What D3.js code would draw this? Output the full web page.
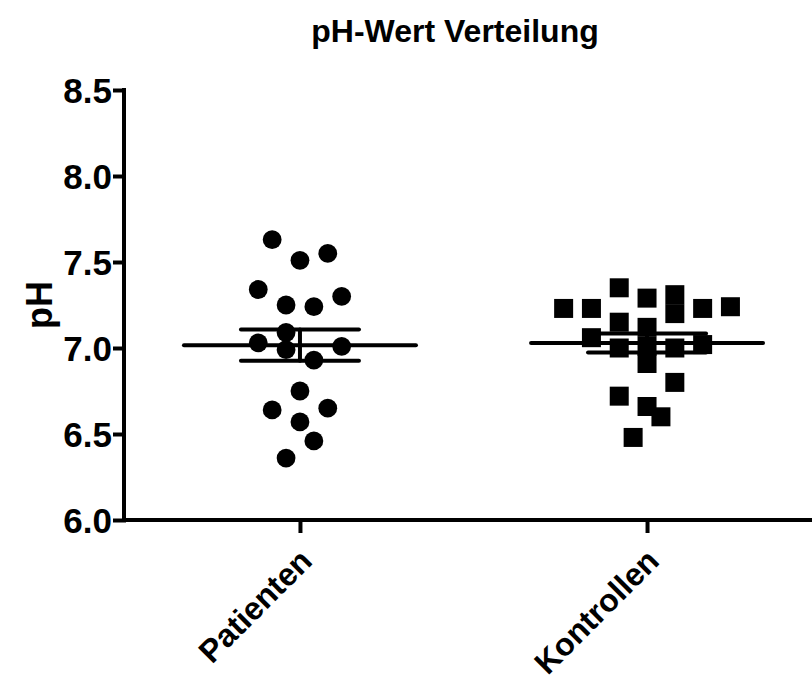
<!DOCTYPE html>
<html>
<head>
<meta charset="utf-8">
<script src="https://cdn.jsdelivr.net/npm/d3@7"></script>
<style>
  html, body { margin: 0; padding: 0; background: #fff; }
  svg { display: block; }
  text { font-family: "Liberation Sans", Arial, Helvetica, sans-serif; font-weight: bold; fill: #000; }
</style>
</head>
<body>
<svg id="chart" width="812" height="682"></svg>
<script>
// Groups shown on the x axis
const categories = ["Patienten", "Kontrollen"];

// Individual pH measurements per group
const patientValues = [7.63, 7.51, 7.55, 7.34, 7.25, 7.24, 7.30, 7.03, 7.09, 6.99, 6.93, 7.01,
                       6.75, 6.64, 6.65, 6.57, 6.46, 6.36];
const controlValues = [7.35, 7.29, 7.31, 7.23, 7.23, 7.20, 7.23, 7.24, 7.15, 7.12, 7.06, 7.00,
                       7.01, 7.00, 7.02, 6.91, 6.80, 6.72, 6.66, 6.60, 6.48];

// Horizontal scatter slot of each point (column-scatter layout, half-symbol steps)
const patientSlots = [-2, 0, 2, -3, -1, 1, 3, -3, -1, -1, 1, 3, 0, -2, 2, 0, 1, -1];
const controlSlots = [-2, 0, 2, -6, -4, 2, 4, 6, -2, 0, -4, -2, 0, 2, 4, 0, 2, -2, 0, 1, -1];

// Y axis tick values
const yTicks = [6.0, 6.5, 7.0, 7.5, 8.0, 8.5];

const groups = [
  { name: categories[0], values: patientValues, slots: patientSlots, symbol: d3.symbolCircle },
  { name: categories[1], values: controlValues, slots: controlSlots, symbol: d3.symbolSquare }
];

const svg = d3.select("#chart");
const axisLeftX = 124, axisBottomY = 520;

const y = d3.scaleLinear().domain([6.0, 8.5]).range([axisBottomY, 90]);
const x = d3.scalePoint().domain(categories).range([axisLeftX, 823]).padding(0.507);
const slotStep = 13.9;

// Title
svg.append("text")
  .attr("x", 455).attr("y", 42)
  .attr("text-anchor", "middle")
  .style("font-size", "32px")
  .text("pH-Wert Verteilung");

// Y axis
const yAxis = svg.append("g")
  .attr("transform", `translate(${axisLeftX},0)`)
  .call(d3.axisLeft(y).tickValues(yTicks).tickFormat(d3.format(".1f")).tickSize(9).tickPadding(3));
yAxis.select(".domain").attr("d", `M0,${y(8.5)}V${axisBottomY}`);

// X axis
const xAxis = svg.append("g")
  .attr("transform", `translate(0,${axisBottomY})`)
  .call(d3.axisBottom(x).tickSize(11).tickFormat(""));
xAxis.select(".domain").attr("d", `M${axisLeftX},0H812`);

svg.selectAll(".domain, .tick line")
  .attr("stroke", "#000").attr("stroke-width", 4).attr("stroke-linecap", "square");
yAxis.selectAll(".tick text").style("font-size", "35px").attr("dy", "0.36em");

// Rotated category labels
svg.append("g").selectAll("text")
  .data(categories)
  .join("text")
  .attr("transform", d => `translate(${x(d) - 2},${axisBottomY + 27}) rotate(-45)`)
  .attr("text-anchor", "end")
  .attr("dy", "0.7em")
  .style("font-size", "32px")
  .text(d => d);

// Y axis title
svg.append("text")
  .attr("transform", `translate(52,${y(7.25)}) rotate(-90)`)
  .attr("text-anchor", "middle")
  .style("font-size", "36px")
  .text("pH");

// Points
groups.forEach(g => {
  const cx = x(g.name);
  const area = g.symbol === d3.symbolCircle ? Math.PI * 9.4 * 9.4 : 19 * 19;
  const sym = d3.symbol().type(g.symbol).size(area);
  svg.append("g").selectAll("path")
    .data(g.values)
    .join("path")
    .attr("d", sym)
    .attr("transform", (v, i) => `translate(${cx + g.slots[i] * slotStep},${y(v)})`)
    .attr("fill", "#000");
});

// Mean line with SEM error bars
groups.forEach(g => {
  const cx = x(g.name);
  const m = d3.mean(g.values);
  const sem = d3.deviation(g.values) / Math.sqrt(g.values.length);
  const gg = svg.append("g")
    .attr("stroke", "#000").attr("stroke-width", 4).attr("stroke-linecap", "round").attr("fill", "none");
  gg.append("line").attr("x1", cx - 116).attr("x2", cx + 116).attr("y1", y(m)).attr("y2", y(m));
  gg.append("line").attr("x1", cx - 59).attr("x2", cx + 59).attr("y1", y(m + sem)).attr("y2", y(m + sem));
  gg.append("line").attr("x1", cx - 59).attr("x2", cx + 59).attr("y1", y(m - sem)).attr("y2", y(m - sem));
  gg.append("line").attr("x1", cx).attr("x2", cx).attr("y1", y(m + sem)).attr("y2", y(m - sem));
});
</script>
</body>
</html>
